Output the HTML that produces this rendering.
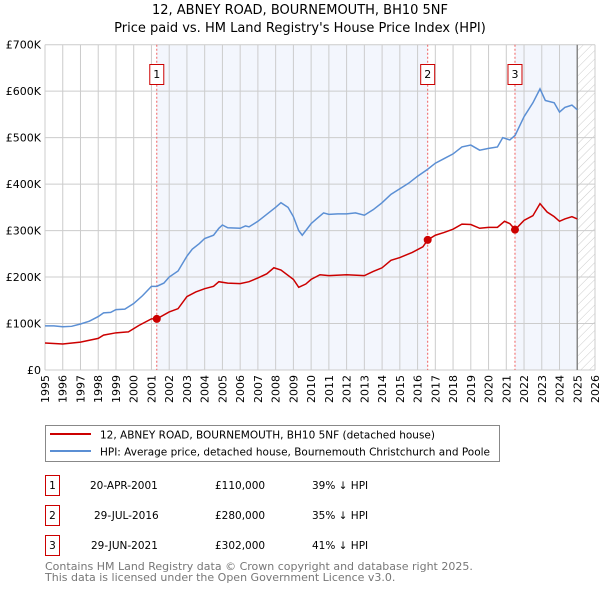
<!DOCTYPE html>
<html><head><meta charset="utf-8"><style>
body{margin:0;background:#fff;}
svg text{font-family:"DejaVu Sans","Liberation Sans",sans-serif;}
</style></head><body>
<svg id="chart" width="600" height="590" xmlns="http://www.w3.org/2000/svg">
<defs><pattern id="hatch" width="6" height="6" patternUnits="userSpaceOnUse" patternTransform="rotate(45)"><line x1="0" y1="0" x2="0" y2="6" stroke="#ccc" stroke-width="1"/></pattern></defs>
<text x="300" y="14" text-anchor="middle" font-size="13">12, ABNEY ROAD, BOURNEMOUTH, BH10 5NF</text>
<text x="300" y="32" text-anchor="middle" font-size="13">Price paid vs. HM Land Registry's House Price Index (HPI)</text>
<g id="plot"></g>
<g>
<rect x="45.5" y="425.5" width="454" height="36" fill="#fff" stroke="#888"/>
<line x1="50" y1="434" x2="91" y2="434" stroke="#cc0000" stroke-width="2"/>
<text x="100" y="438.5" font-size="11" textLength="335" lengthAdjust="spacingAndGlyphs">12, ABNEY ROAD, BOURNEMOUTH, BH10 5NF (detached house)</text>
<line x1="50" y1="451" x2="91" y2="451" stroke="#5b8fd4" stroke-width="2"/>
<text x="100" y="455.5" font-size="11" textLength="390" lengthAdjust="spacingAndGlyphs">HPI: Average price, detached house, Bournemouth Christchurch and Poole</text>
</g>
<g font-size="10.5">
<rect x="45.5" y="475.5" width="14" height="20" fill="none" stroke="#cc0000"/><text x="52.5" y="489" text-anchor="middle">1</text>
<text x="90" y="489">20-APR-2001</text><text x="215" y="489">£110,000</text><text x="312" y="489">39% ↓ HPI</text>
<rect x="45.5" y="505.5" width="14" height="20" fill="none" stroke="#cc0000"/><text x="52.5" y="519" text-anchor="middle">2</text>
<text x="94" y="519">29-JUL-2016</text><text x="215" y="519">£280,000</text><text x="312" y="519">35% ↓ HPI</text>
<rect x="45.5" y="535.5" width="14" height="20" fill="none" stroke="#cc0000"/><text x="52.5" y="549" text-anchor="middle">3</text>
<text x="91" y="549">29-JUN-2021</text><text x="215" y="549">£302,000</text><text x="312" y="549">41% ↓ HPI</text>
</g>
<text x="45" y="570" font-size="11" fill="#777">Contains HM Land Registry data © Crown copyright and database right 2025.</text>
<text x="45" y="581" font-size="11" fill="#777">This data is licensed under the Open Government Licence v3.0.</text>
</svg>
<script>
const hpiYears=[1995,1995.5,1996,1996.5,1997,1997.5,1998,1998.3,1998.7,1999,1999.5,2000,2000.5,2001,2001.3,2001.7,2002,2002.5,2003,2003.3,2003.7,2004,2004.5,2004.8,2005,2005.3,2006,2006.3,2006.5,2007,2007.5,2008,2008.3,2008.7,2009,2009.3,2009.5,2010,2010.3,2010.7,2011,2011.5,2012,2012.5,2013,2013.5,2014,2014.5,2015,2015.5,2016,2016.57,2017,2017.5,2018,2018.5,2019,2019.5,2020,2020.5,2020.8,2021.2,2021.5,2022,2022.5,2022.9,2023.2,2023.7,2024,2024.3,2024.7,2025];
const hpiValues=[95,95,93,94,99,105,115,123,124,130,131,143,160,180,180,187,200,213,245,260,272,283,290,305,312,306,305,310,308,320,335,350,360,350,330,300,290,315,325,338,335,336,336,338,333,345,360,378,390,402,417,432,445,455,465,480,484,473,477,480,500,495,505,545,575,605,580,575,555,565,570,560];
const priceYears=[1995,1996,1997,1998,1998.3,1999,1999.7,2000.3,2001,2001.3,2002,2002.5,2003,2003.5,2004,2004.5,2004.8,2005.3,2006,2006.5,2007,2007.5,2007.9,2008.3,2009,2009.3,2009.7,2010,2010.5,2011,2012,2013,2013.5,2014,2014.5,2015,2015.7,2016.3,2016.57,2017,2017.5,2018,2018.5,2019,2019.5,2020,2020.5,2020.9,2021.2,2021.5,2022,2022.5,2022.9,2023.3,2023.7,2024,2024.3,2024.7,2025];
const priceValues=[58,56,60,68,75,80,82,96,110,110,125,132,158,168,175,180,190,187,186,190,198,207,220,215,195,178,185,195,205,203,205,203,212,220,236,242,253,265,280,290,296,303,314,313,305,307,307,320,315,302,322,332,358,340,330,320,325,330,325];
const saleYears=[2001.3,2016.57,2021.49];
const saleValues=[110,280,302];
const saleLabels=["1","2","3"];
const yTicks=[0,100,200,300,400,500,600,700];
const yTickLabels=["£0","£100K","£200K","£300K","£400K","£500K","£600K","£700K"];
const xTicks=[1995,1996,1997,1998,1999,2000,2001,2002,2003,2004,2005,2006,2007,2008,2009,2010,2011,2012,2013,2014,2015,2016,2017,2018,2019,2020,2021,2022,2023,2024,2025,2026];
const dataEnd=2025.0;
const X0=45,X1=595,Y0=370,Y1=44.7;
const sx=y=>X0+(y-1995)/(2026-1995)*(X1-X0);
const sy=v=>Y0-v/700*(Y0-Y1);
const NS="http://www.w3.org/2000/svg";
const g=document.getElementById('plot');
function mk(t,a){const e=document.createElementNS(NS,t);for(const k in a)e.setAttribute(k,a[k]);g.appendChild(e);return e;}
let e;
e=mk('rect',{x:sx(saleYears[0]),y:Y1,width:sx(saleYears[1])-sx(saleYears[0]),height:Y0-Y1,fill:'#f3f6fd'});


e=mk('rect',{x:sx(saleYears[2]),y:Y1,width:sx(dataEnd)-sx(saleYears[2]),height:Y0-Y1,fill:'#f3f6fd'});


e=mk('rect',{x:sx(dataEnd),y:Y1,width:X1-sx(dataEnd),height:Y0-Y1,fill:'url(#hatch)'});


xTicks.forEach(t=>{e=mk('line',{x1:sx(t),x2:sx(t),y1:Y1,y2:Y0,stroke:'#ccc','stroke-width':1});


e=mk('text',{x:0,y:0,'font-size':11,'text-anchor':'end',transform:`translate(${sx(t)+4},${Y0+5}) rotate(-90)`});e.textContent=t;

});
yTicks.forEach((t,i)=>{e=mk('line',{x1:X0,x2:X1,y1:sy(t),y2:sy(t),stroke:'#ccc','stroke-width':1});


e=mk('text',{x:X0-4,y:sy(t)+4,'font-size':11,'text-anchor':'end'});e.textContent=yTickLabels[i];

});
e=mk('line',{x1:sx(dataEnd),x2:sx(dataEnd),y1:Y1,y2:Y0,stroke:'#888','stroke-width':1.5});


saleYears.forEach((s,i)=>{e=mk('line',{x1:sx(s),x2:sx(s),y1:Y1,y2:Y0,stroke:'#f06060','stroke-width':1,'stroke-dasharray':'2,2'});


e=mk('rect',{x:sx(s)-7,y:64.5,width:14,height:20,fill:'#fff',stroke:'#cc0000'});


e=mk('text',{x:sx(s),y:78,'font-size':11,'text-anchor':'middle'});e.textContent=saleLabels[i];

});
e=mk('polyline',{points:hpiYears.map((y,i)=>sx(y)+','+sy(hpiValues[i])).join(' '),fill:'none',stroke:'#5b8fd4','stroke-width':1.5});


e=mk('polyline',{points:priceYears.map((y,i)=>sx(y)+','+sy(priceValues[i])).join(' '),fill:'none',stroke:'#cc0000','stroke-width':1.5});


saleYears.forEach((s,i)=>{e=mk('circle',{cx:sx(s),cy:sy(saleValues[i]),r:4,fill:'#cc0000'});

});
</script>
</body></html>
